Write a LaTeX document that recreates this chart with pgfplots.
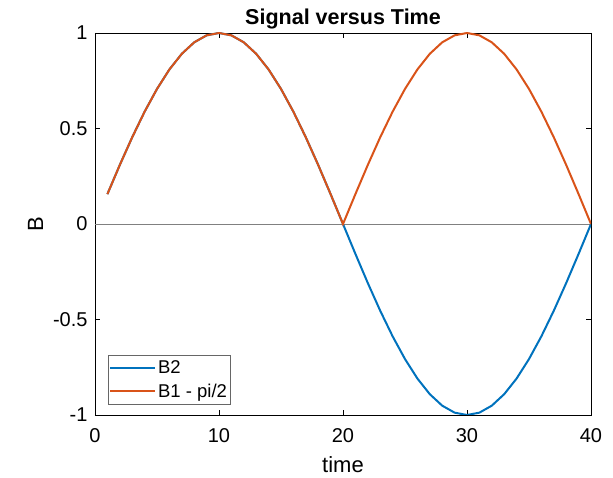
\documentclass[border=0pt]{standalone}
\usepackage{fontspec}
\setmainfont{Liberation Sans}
\usepackage{pgfplots}
\pgfplotsset{compat=1.18}
\usetikzlibrary{calc}
\definecolor{mblue}{rgb}{0,0.447,0.741}
\definecolor{morange}{rgb}{0.85,0.325,0.098}

\begin{document}
\begin{tikzpicture}
\begin{axis}[
    scale only axis,
    width=496pt, height=382pt,
    xmin=0, xmax=40, ymin=-1, ymax=1,
    xtick={0,10,20,30,40},
    ytick={-1,-0.5,0,0.5,1},
    /pgf/number format/assume math mode=true,
    ticklabel style={font=\fontsize{20}{22}\selectfont},
    xticklabel shift=10pt,
    yticklabel shift=4pt,
    tick style={black, line width=0.8pt},
    major tick length=5pt,
    axis line style={black, line width=0.8pt},
    title={\textbf{Signal versus Time}},
    title style={font=\fontsize{21.5}{24}\selectfont, yshift=-6pt},
    xlabel={time},
    ylabel={B},
    label style={font=\fontsize{22}{24}\selectfont},
    xlabel style={yshift=-7pt},
    ylabel shift=3pt,
    legend cell align=left,
    legend style={at={(0.026,0.029)}, anchor=south west, draw=black!60,
        font=\fontsize{18.5}{20}\selectfont, inner xsep=1pt, inner ysep=3pt, row sep=5pt},
    legend image code/.code={\draw[#1] (0pt,0pt) -- (45pt,0pt);},
]
\addplot[gray, line width=0.6pt, forget plot] coordinates {(0,0) (40,0)};

% B2
\addplot[mblue, line width=2pt] coordinates {
    (1,0.1564) (2,0.3090) (3,0.4540) (4,0.5878) (5,0.7071) (6,0.8090) (7,0.8910) (8,0.9511) (9,0.9877) (10,1.0000)
    (11,0.9877) (12,0.9511) (13,0.8910) (14,0.8090) (15,0.7071) (16,0.5878) (17,0.4540) (18,0.3090) (19,0.1564) (20,0)
    (21,-0.1564) (22,-0.3090) (23,-0.4540) (24,-0.5878) (25,-0.7071) (26,-0.8090) (27,-0.8910) (28,-0.9511) (29,-0.9877) (30,-1.0000)
    (31,-0.9877) (32,-0.9511) (33,-0.8910) (34,-0.8090) (35,-0.7071) (36,-0.5878) (37,-0.4540) (38,-0.3090) (39,-0.1564) (40,0)
};
\addlegendentry{B2}

% B1 - pi/2
\addplot[morange, line width=2pt] coordinates {
    (1,0.1564) (2,0.3090) (3,0.4540) (4,0.5878) (5,0.7071) (6,0.8090) (7,0.8910) (8,0.9511) (9,0.9877) (10,1.0000)
    (11,0.9877) (12,0.9511) (13,0.8910) (14,0.8090) (15,0.7071) (16,0.5878) (17,0.4540) (18,0.3090) (19,0.1564) (20,0)
    (21,0.1564) (22,0.3090) (23,0.4540) (24,0.5878) (25,0.7071) (26,0.8090) (27,0.8910) (28,0.9511) (29,0.9877) (30,1.0000)
    (31,0.9877) (32,0.9511) (33,0.8910) (34,0.8090) (35,0.7071) (36,0.5878) (37,0.4540) (38,0.3090) (39,0.1564) (40,0)
};
\addlegendentry{B1 - pi/2}
\end{axis}
\pgfresetboundingbox
\path ($(current axis.south west)+(-95pt,-63pt)$) rectangle ($(current axis.north east)+(22pt,33pt)$);
\end{tikzpicture}
\end{document}
